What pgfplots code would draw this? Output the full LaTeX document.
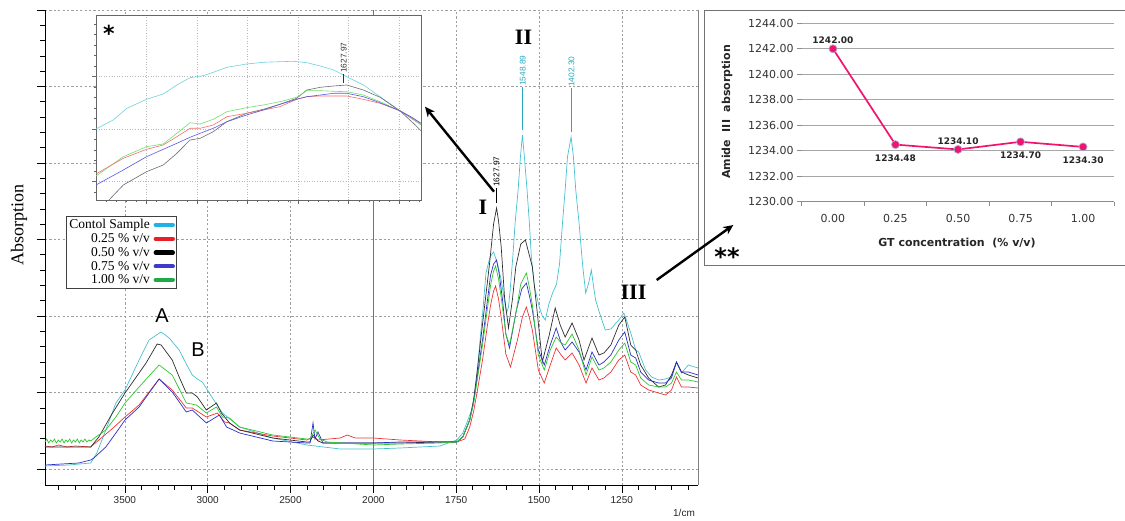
\documentclass[border=0pt]{standalone}
\usepackage{pgfplots}
\pgfplotsset{compat=1.18}
\usepackage{fontspec}
\setmainfont{Liberation Serif}
\newfontfamily\arialf{Liberation Sans}
\newfontfamily\verd{DejaVu Sans}
\usetikzlibrary{arrows.meta}

\definecolor{cCy}{RGB}{70,192,208}
\definecolor{cRd}{RGB}{240,50,50}
\definecolor{cBk}{RGB}{45,45,45}
\definecolor{cBl}{RGB}{45,45,200}
\definecolor{cGr}{RGB}{45,200,45}
\definecolor{lgCy}{RGB}{30,178,230}
\definecolor{lgRd}{RGB}{232,30,40}
\definecolor{lgBl}{RGB}{60,60,200}
\definecolor{lgGr}{RGB}{30,170,70}
\definecolor{iCy}{RGB}{110,210,222}
\definecolor{iBk}{RGB}{110,110,110}
\definecolor{iGr}{RGB}{110,225,110}
\definecolor{iRd}{RGB}{245,110,110}
\definecolor{iBl}{RGB}{90,90,225}
\definecolor{pinkline}{RGB}{240,20,110}
\definecolor{markedge}{RGB}{170,170,215}
\definecolor{cyanlab}{RGB}{40,170,190}

\begin{document}
\begin{tikzpicture}
\useasboundingbox (0,0) rectangle (1125pt,520pt);

% ---------------- main FTIR spectrum ----------------
\begin{axis}[
  at={(45pt,35pt)}, anchor=south west,
  scale only axis, width=653pt, height=475pt,
  x coord trafo/.code={\pgfmathparse{#1>2000 ? -(2000+0.5*(#1-2000)) : -#1}},
  xmin=3982, xmax=1020, ymin=-16, ymax=459,
  axis lines*=left,
  axis line style={black, line width=0.7pt},
  tick align=outside,
  xtick={3500,3000,2500,1750,1500,1250},
  xticklabels={3500,3000,2500,1750,1500,1250},
  extra x ticks={2000}, extra x tick labels={2000},
  extra x tick style={major grid style={solid, black!55, line width=0.9pt}},
  minor xtick={3900,3800,3700,3600,3400,3300,3200,3100,2900,2800,2700,2600,2400,2300,2200,2100,1950,1900,1850,1800,1700,1650,1600,1550,1450,1400,1350,1300,1200,1150,1100,1050},
  ytick={0,76.5,153,229.5,306,382.5,459}, yticklabels={},
  minor y tick num=4,
  major tick length=8pt, minor tick length=4.5pt,
  tick style={black, line width=0.6pt},
  grid=major,
  major grid style={gray!75, line width=0.6pt, dash pattern=on 2.2pt off 2.2pt},
  xticklabel style={font=\arialf\fontsize{10}{12}\selectfont, text=black!85},
  clip=false,
  legend style={at={(0.032,0.566)}, anchor=north west, draw=black!75, line width=0.7pt,
    fill=white, font=\fontsize{13.5}{14}\selectfont, inner sep=1.5pt,
    nodes={inner sep=1.6pt}, row sep=0pt, column sep=2pt},
  legend cell align=right,
  legend plot pos=right,
  legend image code/.code={\draw[#1, line width=4.4pt, line cap=round] (0pt,0pt) -- (17pt,0pt);},
]
\addlegendimage{lgCy}\addlegendentry{Contol Sample}
\addlegendimage{lgRd}\addlegendentry{0.25 \% v/v}
\addlegendimage{black}\addlegendentry{0.50 \% v/v}
\addlegendimage{lgBl}\addlegendentry{0.75 \% v/v}
\addlegendimage{lgGr}\addlegendentry{1.00 \% v/v}

% control sample (cyan)
\addplot[cCy, line width=0.7pt, forget plot] coordinates {
(3982,3) (3839,4) (3706,6) (3669,16) (3615,39) (3554,66) (3499,79) (3414,109) (3354,129) (3281,137)
(3232,131) (3172,119) (3129,105) (3093,94) (3062,90) (3032,87) (2971,71) (2911,56) (2807,42) (2607,31)
(2401,24) (2200,20) (2000,20) (1919,21) (1799,23) (1748,29) (1730,36) (1718,46) (1700,62) (1688,89)
(1679,125) (1670,156) (1660,196) (1648,212) (1637,217) (1625,205) (1614,189) (1605,170) (1598,156)
(1592,162) (1587,179) (1579,212) (1572,246) (1563,279) (1556,312) (1550,334) (1544,312) (1536,279)
(1529,246) (1523,212) (1514,183) (1500,163) (1490,153) (1481,149) (1470,165) (1459,176) (1447,185)
(1438,205) (1429,246) (1421,279) (1414,312) (1403,332) (1396,312) (1389,279) (1379,246) (1368,203)
(1359,176) (1350,186) (1342,199) (1335,182) (1329,169) (1319,158) (1300,139) (1283,140) (1270,145)
(1259,149) (1244,156) (1235,148) (1223,136) (1208,119) (1199,117) (1178,99) (1160,92) (1139,89)
(1118,90) (1100,92) (1085,107) (1070,96) (1049,104) (1020,101)};

% 0.25 % (red)
\addplot[cRd, line width=0.7pt, forget plot] coordinates {
(3982,23) (3940,22) (3900,24) (3850,22) (3800,23) (3706,22) (3657,29) (3578,40) (3499,52) (3414,64)
(3354,77) (3293,90) (3214,79) (3129,61) (3093,61) (3008,52) (2941,56) (2898,47) (2868,46) (2807,39)
(2607,33) (2401,29) (2364,32) (2334,29) (2200,31) (2158,34) (2109,31) (2000,31) (1919,29) (1799,27)
(1748,27) (1724,30) (1709,42) (1697,58) (1685,80) (1670,110) (1655,145) (1646,164) (1637,178)
(1631,183) (1622,170) (1613,149) (1600,115) (1586,102) (1565,129) (1550,152) (1538,162) (1528,150)
(1520,139) (1502,99) (1484,86) (1466,104) (1448,121) (1433,114) (1421,109) (1400,116) (1379,104)
(1358,86) (1340,101) (1319,89) (1304,91) (1283,97) (1259,109) (1241,114) (1223,97) (1208,94)
(1193,84) (1169,79) (1139,76) (1118,74) (1100,79) (1085,92) (1070,82) (1049,82) (1020,81)};

% 0.50 % (black)
\addplot[cBk, line width=0.7pt, forget plot] coordinates {
(3982,22) (3850,22) (3706,22) (3657,32) (3578,55) (3499,76) (3414,96) (3372,106) (3305,125) (3281,124)
(3214,109) (3172,92) (3129,76) (3093,76) (3062,72) (3008,59) (2947,66) (2917,56) (2868,46) (2807,39)
(2607,31) (2401,27) (2382,27) (2364,34) (2334,28) (2304,26) (2000,26) (1919,26) (1799,27) (1748,27)
(1730,32) (1709,49) (1697,70) (1685,102) (1670,146) (1649,206) (1637,245) (1628,261) (1622,248)
(1614,222) (1604,172) (1592,141) (1580,170) (1570,202) (1555,225) (1541,229) (1530,215) (1520,202)
(1505,156) (1490,107) (1469,134) (1451,161) (1436,144) (1421,132) (1400,146) (1379,129) (1364,109)
(1340,131) (1319,114) (1304,116) (1283,124) (1259,144) (1241,152) (1223,124) (1208,119) (1193,104)
(1169,91) (1139,82) (1118,84) (1100,94) (1085,107) (1070,97) (1049,94) (1020,91)};

% 0.75 % (blue)
\addplot[cBl, line width=0.7pt, forget plot] coordinates {
(3982,4) (3778,6) (3706,9) (3687,11) (3615,22) (3554,36) (3499,49) (3414,62) (3354,76) (3293,90)
(3214,77) (3129,57) (3093,59) (3008,46) (2929,54) (2886,42) (2807,36) (2607,28) (2401,26) (2382,26)
(2364,46) (2352,30) (2334,37) (2304,26) (2000,26) (1919,27) (1799,27) (1748,27) (1730,32) (1709,49)
(1697,68) (1685,95) (1670,130) (1655,170) (1646,194) (1637,205) (1628,209) (1620,195) (1610,169)
(1600,135) (1589,121) (1568,159) (1552,180) (1538,186) (1528,172) (1520,159) (1502,119) (1484,104)
(1466,124) (1448,141) (1433,126) (1421,119) (1400,127) (1379,117) (1358,99) (1340,117) (1319,104)
(1304,107) (1283,114) (1259,129) (1241,137) (1223,114) (1208,111) (1193,97) (1169,89) (1139,86)
(1118,86) (1100,91) (1085,107) (1070,97) (1049,97) (1020,94)};

% 1.00 % (green)
\addplot[cGr, line width=0.7pt, forget plot] coordinates {
(3982,27) (3971,30) (3960,26) (3948,29) (3937,27) (3925,30) (3914,26) (3902,29) (3890,27) (3879,30)
(3867,26) (3856,29) (3844,27) (3833,30) (3821,26) (3810,29) (3798,27) (3787,30) (3775,26) (3764,29)
(3752,27) (3741,30) (3729,27) (3718,29) (3706,28) (3675,32) (3615,39) (3554,52)
(3499,66) (3414,82) (3354,93) (3293,104) (3214,94) (3129,66) (3068,64) (3008,56) (2947,62) (2911,52)
(2868,51) (2807,42) (2607,34) (2401,30) (2382,30) (2352,39) (2322,30) (2279,27) (2000,24) (1919,25)
(1799,26) (1748,27) (1730,32) (1709,49) (1697,66) (1685,92) (1670,125) (1655,162) (1646,184)
(1637,198) (1631,203) (1622,190) (1613,169) (1600,135) (1589,124) (1568,159) (1555,185) (1538,196)
(1528,180) (1520,164) (1502,114) (1484,99) (1466,119) (1448,132) (1433,126) (1421,124) (1400,135)
(1379,119) (1358,94) (1340,112) (1319,99) (1304,101) (1283,107) (1259,119) (1241,126) (1223,107)
(1208,104) (1193,91) (1169,84) (1139,82) (1118,82) (1100,86) (1085,97) (1070,89) (1049,89) (1020,87)};

% peak markers
\addplot[cyanlab, line width=0.5pt, forget plot] coordinates {(1549,339) (1549,382)}
  node[pos=1, rotate=90, anchor=west, inner sep=1pt, font=\arialf\fontsize{8.3}{9}\selectfont, text=cyanlab] {1548.89};
\addplot[cyanlab, line width=0.5pt, forget plot] coordinates {(1402,337) (1402,381)}
  node[pos=1, rotate=90, anchor=west, inner sep=1pt, font=\arialf\fontsize{8.3}{9}\selectfont, text=cyanlab] {1402.30};
\addplot[black, line width=0.5pt, forget plot] coordinates {(1628,266) (1628,281)}
  node[pos=1, rotate=90, anchor=west, inner sep=1pt, font=\arialf\fontsize{8.3}{9}\selectfont] {1627.97};
\draw[black!50, line width=0.6pt] (rel axis cs:1,0) -- (rel axis cs:1,1);
\end{axis}

% ---------------- inset (*) ----------------
\begin{axis}[
  at={(96pt,320pt)}, anchor=south west,
  scale only axis, width=325pt, height=185pt,
  x coord trafo/.code={\pgfmathparse{-#1}},
  xmin=1680, xmax=1615.7, ymin=0, ymax=185,
  axis background/.style={fill=white},
  axis line style={black!60, line width=0.6pt},
  tick pos=left, tick align=outside,
  xtick={1620,1630,1640,1650,1660,1670}, xticklabels={},
  minor xtick={1616,1618,1622,1624,1626,1628,1632,1634,1636,1638,1642,1644,1646,1648,1652,1654,1656,1658,1662,1664,1666,1668,1672,1674,1676,1678},
  ytick={18.3,70.8,123.3}, yticklabels={},
  minor ytick={7.8,28.8,39.3,49.8,60.3,81.3,91.8,102.3,112.8,133.8,144.3,154.8,165.3,175.8},
  major tick length=4pt, minor tick length=2.5pt,
  tick style={black!60, line width=0.5pt},
  grid=major, major grid style={gray!55, line width=0.6pt, dotted},
]
\addplot[iCy, line width=0.6pt] coordinates {
(1680,71) (1676.6,80) (1673.9,91.7) (1670,100.7) (1666.7,106) (1664,115) (1661.4,122.3) (1658.8,124.3)
(1656.8,127.7) (1654.1,132.7) (1650.2,136) (1646.9,137.7) (1643.6,138.3) (1640.9,138.7) (1638.3,137.3)
(1635.6,134) (1633,130) (1630.4,123.3) (1627.1,115) (1623.8,103.3) (1619.9,89.3) (1617.2,80) (1615.7,75)};
\addplot[iBk, line width=0.6pt] coordinates {
(1677.8,-2) (1674.6,15) (1670,28.3) (1666.7,35) (1664,46.7) (1661.4,60) (1659.4,61.7) (1656.8,68.3)
(1654.1,78.3) (1650.2,86.7) (1646.9,90.7) (1643.6,95.7) (1640.3,101.7) (1638.3,110) (1635.6,112.7)
(1633,114) (1630.4,115) (1627.1,110) (1623.8,102.7) (1619.9,89.3) (1617.2,76.7) (1615.7,69.3)};
\addplot[iGr, line width=0.6pt] coordinates {
(1680,24) (1674.6,43.3) (1670,53.3) (1666.7,56) (1664,66.7) (1661.4,77.3) (1659.4,76) (1656.8,80.7)
(1654.1,88.3) (1650.2,92.3) (1646.9,95) (1643.6,98.3) (1640.3,102.7) (1638.3,109.3) (1635.6,109.3)
(1633,108.7) (1630.4,108.3) (1627.1,105) (1623.8,98.3) (1619.9,89.3) (1617.2,81.7) (1615.7,75)};
\addplot[iRd, line width=0.6pt] coordinates {
(1680,26) (1674.6,41.7) (1670,50.7) (1666.7,55) (1664,63.3) (1661.4,71.7) (1659.4,71.7) (1656.8,75)
(1654.1,83.3) (1650.2,86.7) (1646.9,90) (1643.6,93.3) (1640.3,100.7) (1638.3,103.3) (1635.6,104)
(1633,104) (1630.4,104) (1627.1,100.7) (1623.8,96.7) (1619.9,89.3) (1617.2,80.7) (1615.7,76.7)};
\addplot[iBl, line width=0.6pt] coordinates {
(1680,15) (1674.6,30) (1670,43.3) (1666.7,50.7) (1664,56.7) (1661.4,62.7) (1659.4,66.7) (1656.8,71.7)
(1654.1,78.3) (1650.2,85) (1646.9,90) (1643.6,95.7) (1640.3,100.7) (1638.3,103.3) (1635.6,105)
(1633,106.7) (1630.4,106.7) (1627.1,103.3) (1623.8,97.3) (1619.9,89.3) (1617.2,81.7) (1615.7,76.7)};
\addplot[black!80, line width=0.5pt] coordinates {(1631,117) (1631,126)}
  node[pos=1, rotate=90, anchor=west, inner sep=1pt, font=\arialf\fontsize{8.3}{9}\selectfont] {1627.97};
\end{axis}

% ---------------- amide III chart (**) ----------------
\begin{axis}[
  at={(801.7pt,318.3pt)}, anchor=south west,
  scale only axis, width=312.6pt, height=178.4pt,
  xmin=-0.5, xmax=4.5, ymin=1230, ymax=1244,
  axis x line*=bottom, axis y line*=left,
  x axis line style={black!45, line width=0.7pt},
  y axis line style={draw=none},
  ytick={1230,1232,1234,1236,1238,1240,1242,1244},
  yticklabels={1230.00,1232.00,1234.00,1236.00,1238.00,1240.00,1242.00,1244.00},
  xtick={0,1,2,3,4}, xticklabels={0.00,0.25,0.50,0.75,1.00},
  minor xtick={-0.5,0.5,1.5,2.5,3.5,4.5},
  tick align=outside,
  major x tick style={draw=none},
  major tick length=4.5pt, minor tick length=4.5pt,
  y tick style={black!45, line width=0.7pt},
  minor x tick style={black!45, line width=0.7pt},
  ymajorgrids, major grid style={black!35, line width=0.7pt},
  ticklabel style={font=\verd\fontsize{11}{13}\selectfont, text=black!80},
  xticklabel style={yshift=-5pt},
  clip=false,
]
\addplot[pinkline, line width=1.7pt, mark=*, mark size=4pt,
  mark options={fill=pinkline, draw=markedge, line width=0.7pt}]
  coordinates {(0,1242.00) (1,1234.48) (2,1234.10) (3,1234.70) (4,1234.30)};
\addplot[draw=none, mark=none, nodes near coords, point meta=explicit symbolic,
  every node near coord/.append style={font=\verd\bfseries\fontsize{9}{10}\selectfont, anchor=south, yshift=1.5pt, text=black!85}]
  coordinates {(0,1242.00) [1242.00] (2,1234.10) [1234.10]};
\addplot[draw=none, mark=none, nodes near coords, point meta=explicit symbolic,
  every node near coord/.append style={font=\verd\bfseries\fontsize{9}{10}\selectfont, anchor=north, yshift=-6.5pt, text=black!85}]
  coordinates {(1,1234.48) [1234.48] (3,1234.70) [1234.70] (4,1234.30) [1234.30]};
\end{axis}

% frame of right chart
\draw[black!55, line width=0.8pt] (1125pt,255pt) -- (704pt,255pt) -- (704pt,510pt) -- (1125pt,510pt);
\node[rotate=90, font=\verd\bfseries\fontsize{11}{13}\selectfont, text=black!85] at (727pt,408pt) {Amide\ \ III\ \ absorption};
\node[font=\verd\bfseries\fontsize{11}{13}\selectfont, text=black!85] at (957pt,277pt) {GT concentration\ \ (\% v/v)};
\node[font=\verd\bfseries\fontsize{24}{26}\selectfont, anchor=base] at (727pt,254pt) {**};

% annotations of main chart
\node[rotate=90, font=\fontsize{18}{20}\selectfont] at (19pt,295pt) {Absorption};
\node[font=\arialf\fontsize{10}{12}\selectfont, text=black!85] at (684pt,7pt) {1/cm};
\node[font=\arialf\fontsize{20}{24}\selectfont] at (162pt,204pt) {A};
\node[font=\arialf\fontsize{20}{24}\selectfont] at (198pt,170pt) {B};
\node[font=\bfseries\fontsize{22}{26}\selectfont] at (483pt,312.5pt) {I};
\node[font=\bfseries\fontsize{22}{26}\selectfont] at (523.5pt,482.5pt) {II};
\node[font=\bfseries\fontsize{22}{26}\selectfont] at (633.5pt,227.5pt) {III};
\node[font=\verd\bfseries\fontsize{22}{24}\selectfont, anchor=base] at (109pt,478pt) {*};

\draw[line width=2.4pt, -{Stealth[length=10pt, width=9pt]}] (494pt,328.3pt) -- (425pt,413.3pt);
\draw[line width=2.4pt, -{Stealth[length=10pt, width=9pt]}] (656.7pt,240pt) -- (733.3pt,295pt);
\end{tikzpicture}
\end{document}
